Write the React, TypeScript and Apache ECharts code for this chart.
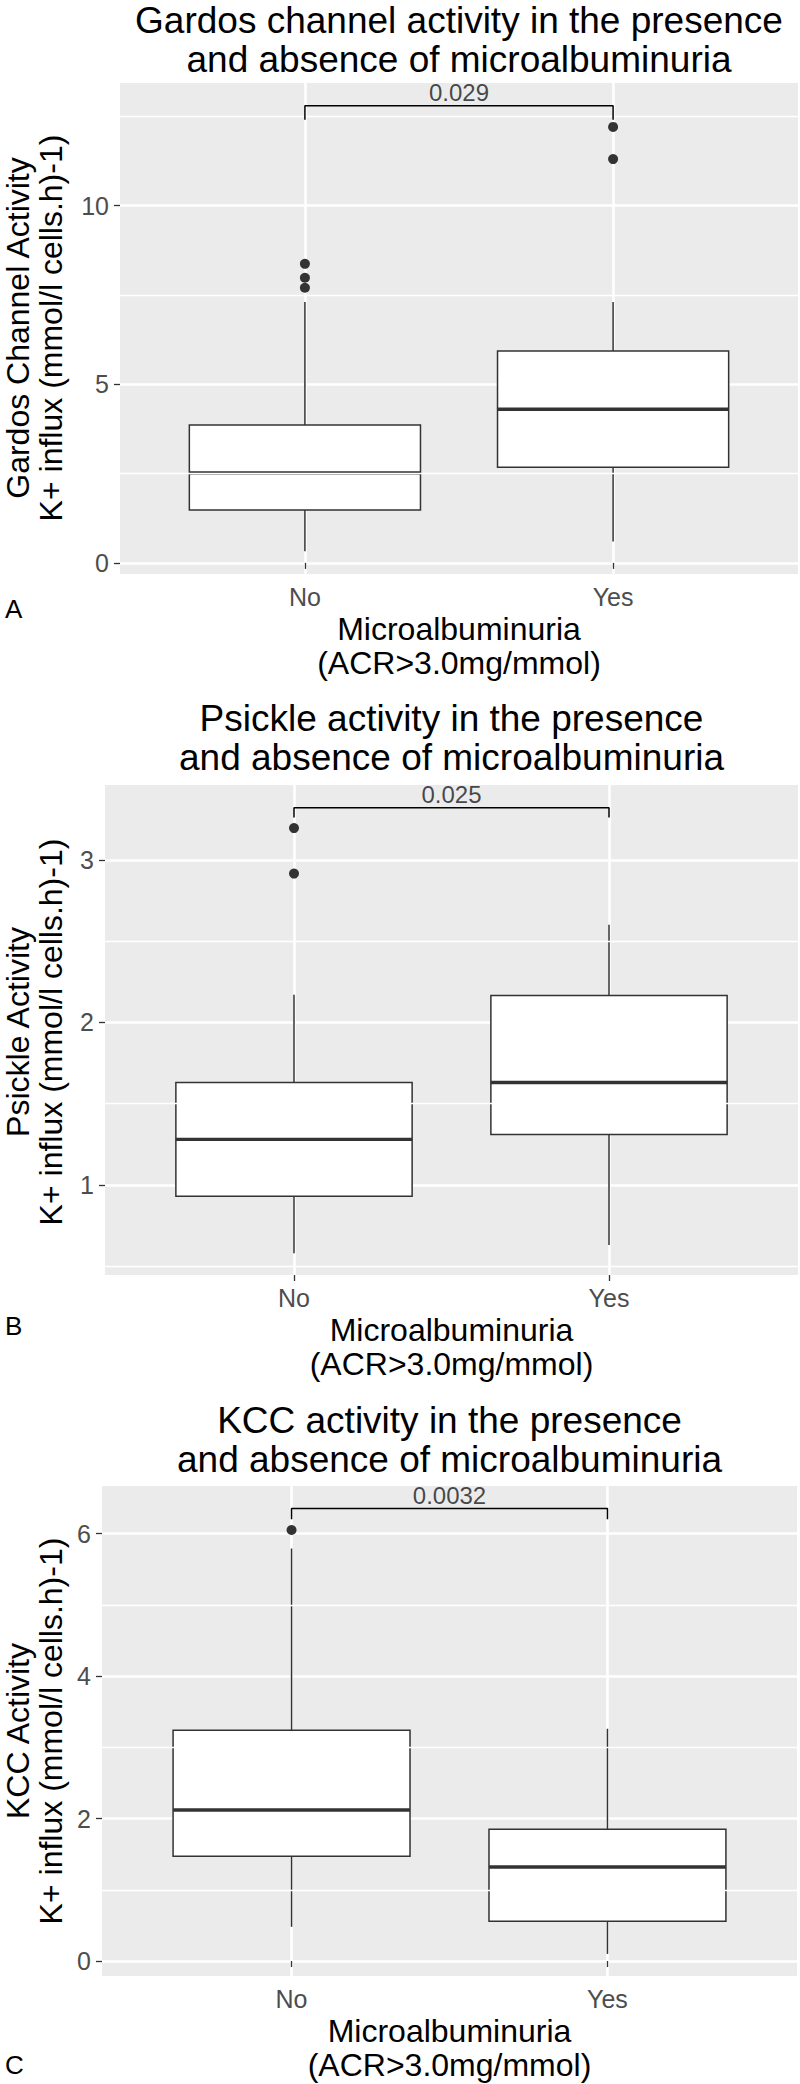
import React, { useEffect, useRef } from "react";
import * as echarts from "echarts";

// ---------- data ----------
const categories = ["No", "Yes"];

// Panel A: Gardos channel
const gardosTitle = "Gardos channel activity in the presence\nand absence of microalbuminuria";
const gardosYName = "Gardos Channel Activity\nK+ influx (mmol/l cells.h)-1)";
// [lowerWhisker, Q1, median, Q3, upperWhisker]
const gardosNo = [0.33, 1.48, 2.52, 3.86, 7.3];
const gardosYes = [0.6, 2.68, 4.3, 5.93, 7.3];
const gardosOutliers = [[1, 8.37], [1, 7.98], [1, 7.7], [2, 12.2], [2, 11.3]];
const gardosTicks = [0, 5, 10];
const gardosMinor = [2.5, 7.5, 12.5];
const gardosRange = [-0.31, 13.43];
const gardosP = "0.029";
const gardosBracket = [12.4, 12.79];

// Panel B: Psickle
const psickleTitle = "Psickle activity in the presence\nand absence of microalbuminuria";
const psickleYName = "Psickle Activity\nK+ influx (mmol/l cells.h)-1)";
const psickleNo = [0.58, 0.93, 1.28, 1.63, 2.17];
const psickleYes = [0.63, 1.31, 1.63, 2.165, 2.6];
const psickleOutliers = [[1, 3.195], [1, 2.915]];
const psickleTicks = [1, 2, 3];
const psickleMinor = [0.5, 1.5, 2.5];
const psickleRange = [0.446, 3.46];
const psickleP = "0.025";
const psickleBracket = [3.26, 3.32];

// Panel C: KCC
const kccTitle = "KCC activity in the presence\nand absence of microalbuminuria";
const kccYName = "KCC Activity\nK+ influx (mmol/l cells.h)-1)";
const kccNo = [0.48, 1.47, 2.12, 3.24, 5.79];
const kccYes = [0.1, 0.56, 1.32, 1.85, 3.26];
const kccOutliers = [[1, 6.05]];
const kccTicks = [0, 2, 4, 6];
const kccMinor = [1, 3, 5];
const kccRange = [-0.21, 6.667];
const kccP = "0.0032";
const kccBracket = [6.2, 6.35];

const xTicks = [1, 2];
const xRange = [0.4, 2.6];
const xName = "Microalbuminuria\n(ACR>3.0mg/mmol)";
const letters = ["A", "B", "C"];

// ---------- layout ----------
const FONT = "'Liberation Sans', Arial, Helvetica, sans-serif";
const layout = [
  { left: 120, top: 83, width: 678, height: 491, titleY: 40, letterY: 609, yNameY: 328 },
  { left: 105, top: 785, width: 693, height: 490, titleY: 738, letterY: 1326, yNameY: 1032 },
  { left: 102, top: 1486, width: 695, height: 490, titleY: 1440, letterY: 2065, yNameY: 1731 },
];
const Y_NAME_X = 34.5;

const panelData = [
  { title: gardosTitle, yName: gardosYName, boxes: [gardosNo, gardosYes], outliers: gardosOutliers, ticks: gardosTicks, minor: gardosMinor, range: gardosRange, p: gardosP, bracket: gardosBracket },
  { title: psickleTitle, yName: psickleYName, boxes: [psickleNo, psickleYes], outliers: psickleOutliers, ticks: psickleTicks, minor: psickleMinor, range: psickleRange, p: psickleP, bracket: psickleBracket },
  { title: kccTitle, yName: kccYName, boxes: [kccNo, kccYes], outliers: kccOutliers, ticks: kccTicks, minor: kccMinor, range: kccRange, p: kccP, bracket: kccBracket },
];

function buildOption() {
  const grid: any[] = [];
  const xAxis: any[] = [];
  const yAxis: any[] = [];
  const series: any[] = [];
  const graphic: any[] = [];

  panelData.forEach((pd, i) => {
    const L = layout[i];
    grid.push({
      left: L.left,
      top: L.top,
      width: L.width,
      height: L.height,
      show: true,
      backgroundColor: "#EBEBEB",
      borderWidth: 0,
      containLabel: false,
      outerBoundsMode: "none",
    });
    xAxis.push({
      type: "value",
      gridIndex: i,
      min: xRange[0],
      max: xRange[1],
      axisLine: { show: false },
      axisTick: { show: true, length: 6, customValues: xTicks, lineStyle: { color: "#333333", width: 1.3 } },
      axisLabel: {
        show: true,
        customValues: xTicks,
        formatter: (v: number) => categories[Math.round(v) - 1] ?? "",
        color: "#4D4D4D",
        fontSize: 25,
        fontFamily: FONT,
        margin: 10,
      },
      splitLine: { show: true, lineStyle: { color: "#FFFFFF", width: 2.6 } },
      name: xName,
      nameLocation: "middle",
      nameGap: 38,
      nameTextStyle: { color: "#000", fontSize: 32, fontFamily: FONT, lineHeight: 34 },
    });
    yAxis.push({
      type: "value",
      gridIndex: i,
      min: pd.range[0],
      max: pd.range[1],
      axisLine: { show: false },
      axisTick: { show: true, length: 6, customValues: pd.ticks, lineStyle: { color: "#333333", width: 1.3 } },
      axisLabel: {
        show: true,
        customValues: pd.ticks,
        color: "#4D4D4D",
        fontSize: 25,
        fontFamily: FONT,
        margin: 11,
      },
      splitLine: { show: true, lineStyle: { color: "#FFFFFF", width: 2.6 } },
    });

    // minor grid lines
    series.push({
      type: "line",
      xAxisIndex: i,
      yAxisIndex: i,
      data: [],
      z: 1,
      silent: true,
      markLine: {
        silent: true,
        symbol: ["none", "none"],
        label: { show: false },
        lineStyle: { color: "#FFFFFF", width: 1.3, type: "solid" },
        emphasis: { disabled: true },
        data: pd.minor.map((v) => ({ yAxis: v })),
      },
    });

    // boxes
    series.push({
      type: "custom",
      xAxisIndex: i,
      yAxisIndex: i,
      z: 3,
      data: pd.boxes.map((b, k) => [xTicks[k], ...b]),
      encode: { x: 0, y: [1, 2, 3, 4, 5] },
      renderItem: (params: any, api: any) => {
        const x = api.value(0);
        const lo = api.coord([x, api.value(1)]);
        const q1 = api.coord([x, api.value(2)]);
        const med = api.coord([x, api.value(3)]);
        const q3 = api.coord([x, api.value(4)]);
        const hi = api.coord([x, api.value(5)]);
        const w = api.size([0.75, 0])[0];
        const cx = lo[0];
        const st = { stroke: "#333333", lineWidth: 1.5 };
        return {
          type: "group",
          children: [
            { type: "line", shape: { x1: cx, y1: hi[1], x2: cx, y2: q3[1] }, style: st },
            { type: "line", shape: { x1: cx, y1: q1[1], x2: cx, y2: lo[1] }, style: st },
            { type: "rect", shape: { x: cx - w / 2, y: q3[1], width: w, height: q1[1] - q3[1] }, style: { fill: "#FFFFFF", ...st } },
            { type: "line", shape: { x1: cx - w / 2, y1: med[1], x2: cx + w / 2, y2: med[1] }, style: { stroke: "#333333", lineWidth: 3.4 } },
          ],
        };
      },
    });

    // outliers
    series.push({
      type: "scatter",
      xAxisIndex: i,
      yAxisIndex: i,
      z: 4,
      symbolSize: 10,
      itemStyle: { color: "#333333", opacity: 1 },
      data: pd.outliers,
    });

    // significance bracket
    const [base, top] = pd.bracket;
    series.push({
      type: "line",
      xAxisIndex: i,
      yAxisIndex: i,
      z: 5,
      symbol: "none",
      lineStyle: { color: "#000000", width: 1.5 },
      data: [
        [xTicks[0], base],
        [xTicks[0], top],
        [xTicks[1], top],
        [xTicks[1], base],
      ],
    });
    series.push({
      type: "scatter",
      xAxisIndex: i,
      yAxisIndex: i,
      z: 5,
      symbolSize: 1,
      itemStyle: { color: "rgba(0,0,0,0)" },
      label: {
        show: true,
        position: "top",
        distance: 1,
        formatter: pd.p,
        color: "#1A1A1A",
        fontSize: 24,
        fontFamily: FONT,
      },
      data: [[(xTicks[0] + xTicks[1]) / 2, top]],
    });

    // title
    graphic.push({
      type: "text",
      x: L.left + L.width / 2,
      y: L.titleY,
      style: {
        text: pd.title,
        fontSize: 37,
        fontFamily: FONT,
        fill: "#000",
        align: "center",
        verticalAlign: "middle",
        lineHeight: 39,
      },
    });
    // y axis title
    graphic.push({
      type: "text",
      x: Y_NAME_X,
      y: L.yNameY,
      rotation: Math.PI / 2,
      style: {
        text: pd.yName,
        fontSize: 32,
        fontFamily: FONT,
        fill: "#000",
        align: "center",
        verticalAlign: "middle",
        lineHeight: 33,
      },
    });
    // panel letter
    graphic.push({
      type: "text",
      x: 5,
      y: L.letterY,
      style: {
        text: letters[i],
        fontSize: 26,
        fontFamily: FONT,
        fill: "#000",
        align: "left",
        verticalAlign: "middle",
      },
    });
  });

  return {
    animation: false,
    backgroundColor: "#FFFFFF",
    grid,
    xAxis,
    yAxis,
    series,
    graphic,
  };
}

export default function App() {
  const ref = useRef<HTMLDivElement>(null);
  useEffect(() => {
    document.body.style.margin = "0";
    if (!ref.current) return;
    const chart = echarts.init(ref.current, undefined, { renderer: "svg" });
    chart.setOption(buildOption() as any);
    return () => chart.dispose();
  }, []);
  return <div ref={ref} style={{ width: 800, height: 2084 }} />;
}
